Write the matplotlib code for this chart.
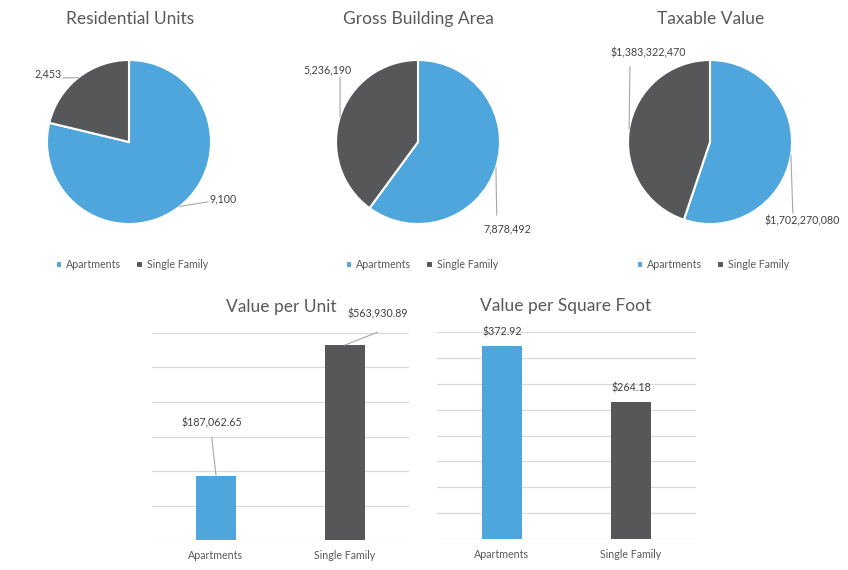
import numpy as np
import matplotlib.pyplot as plt

categories = ['Apartments', 'Single Family']
units = [9100, 2453]
gross_area = [7878492, 5236190]
taxable_value = [1702270080, 1383322470]
value_per_unit = [187062.65, 563930.89]
value_per_sqft = [372.92, 264.18]

colors = ['#4ea6dc', '#555759']
text_gray = '#595959'
label_gray = '#404040'
line_gray = '#a6a6a6'

plt.rcParams['font.family'] = ['Lato', 'DejaVu Sans']

W, H = 848, 570
fig = plt.figure(figsize=(W / 100, H / 100), dpi=100)
fig.patch.set_facecolor('white')


def px_axes(x0, y0, x1, y1):
    # pixel box (top-left origin) -> figure fraction
    return fig.add_axes([x0 / W, 1 - y1 / H, (x1 - x0) / W, (y1 - y0) / H])


def fig_text(x, y, s, **kw):
    fig.text(x / W, 1 - y / H, s, **kw)


R = 82  # pie radius, px


def draw_pie(cx, cy, values, fmt, title, title_x, legend_x, spots):
    a = 1.5
    ax = px_axes(cx - a * R, cy - a * R, cx + a * R, cy + a * R)
    wedges, _ = ax.pie(values, colors=colors, startangle=90, counterclock=False,
                       wedgeprops=dict(edgecolor='white', linewidth=1.5))
    ax.set_xlim(-a, a)
    ax.set_ylim(-a, a)
    for w, v, (start, pos) in zip(wedges, values, spots):
        mid = np.deg2rad((w.theta1 + w.theta2) / 2)
        edge = (np.cos(mid), np.sin(mid))
        ax.plot([start[0], edge[0]], [start[1], edge[1]], color=line_gray,
                lw=0.8, clip_on=False)
        ax.text(pos[0], pos[1], fmt(v), ha='center', va='center',
                fontsize=7.7, color=label_gray)
    fig_text(title_x, 19, title, ha='center', va='center', fontsize=12.5,
             color=text_gray)
    fig.legend(wedges, categories, loc='center', ncol=2, frameon=False,
               bbox_to_anchor=(legend_x / W, 1 - 265 / H), fontsize=7.7,
               handlelength=0.6, handleheight=0.6, handletextpad=0.4,
               columnspacing=1.4, labelcolor=text_gray)


draw_pie(129, 142, units, lambda v: f'{v:,}', 'Residential Units', 130, 132,
         [((0.963, -0.73), (1.146, -0.695)), ((-0.805, 0.78), (-0.988, 0.83))])
draw_pie(418, 142, gross_area, lambda v: f'{v:,}', 'Gross Building Area', 418, 422,
         [((0.96, -0.89), (1.085, -1.06)), ((-0.95, 0.79), (-1.10, 0.88))])
draw_pie(710, 142, taxable_value, lambda v: f'${v:,}', 'Taxable Value', 711, 713,
         [((1.01, -0.866), (1.12, -0.963)), ((-0.976, 0.915), (-0.756, 1.085))])


def draw_bar(box, values, ymax, step, title, title_x, fmt, offsets):
    ax = px_axes(*box)
    x = np.arange(len(values))
    ax.bar(x, values, width=0.31, color=colors, zorder=2)
    ax.set_xlim(-0.5, 1.5)
    ax.set_ylim(0, ymax)
    ax.set_yticks(np.arange(0, ymax + step, step))
    ax.yaxis.grid(True, color='#d9d9d9', lw=0.9)
    ax.tick_params(axis='y', length=0, labelleft=False)
    ax.set_xticks(x, categories)
    ax.tick_params(axis='x', length=0, pad=7, labelsize=7.7, labelcolor=text_gray)
    for s in ax.spines.values():
        s.set_visible(False)
    for i, v in enumerate(values):
        (tdx, tdy), line = offsets[i]
        ax.annotate(fmt(v), xy=(i, v), xytext=(tdx, tdy), textcoords='offset pixels',
                    ha='center', va='center', fontsize=7.7, color=label_gray)
        if line is not None:
            ax.annotate('', xy=(i, v), xytext=line, textcoords='offset pixels',
                        arrowprops=dict(arrowstyle='-', color=line_gray, lw=0.8,
                                        shrinkA=0, shrinkB=0))
    fig_text(title_x, box[1] - 26, title, ha='center', va='center', fontsize=12.5,
             color=text_gray)


draw_bar((151.7, 332.7, 409, 540.3), value_per_unit, 600000, 100000,
         'Value per Unit', 281, lambda v: f'${v:,.2f}',
         [((-4, 53), (-4.3, 38)), ((33, 31), (33, 13))])
draw_bar((437.3, 331.7, 695.7, 539.3), value_per_sqft, 400, 50,
         'Value per Square Foot', 566, lambda v: f'${v:,.2f}',
         [((0, 14), None), ((0, 14), None)])

fig.savefig('out.png', dpi=100, facecolor='white')
